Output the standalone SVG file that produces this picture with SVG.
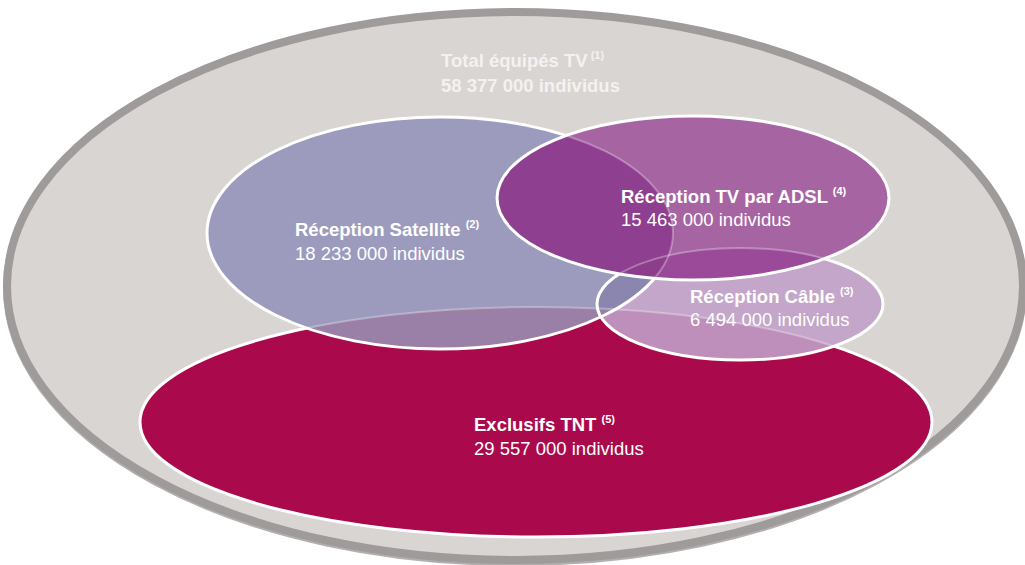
<svg xmlns="http://www.w3.org/2000/svg" xmlns:xlink="http://www.w3.org/1999/xlink" width="1025" height="565" viewBox="0 0 1025 565">
  <style>
    text { font-family: "Liberation Sans", Arial, sans-serif; font-size: 18.5px; fill: #ffffff; }
    .b { font-weight: bold; }
    .sup { font-size: 11px; font-weight: bold; }
    .tot { fill: #f4f2f1; }
    .edge { fill: none; stroke: #ffffff; stroke-width: 3; }
    .faint { fill: none; stroke: #ffffff; stroke-width: 2; opacity: 0.3; }
  </style>
  <defs>
    <ellipse id="eTnt" cx="536" cy="422" rx="396" ry="115"/>
    <ellipse id="eSat" cx="440" cy="233" rx="233" ry="116"/>
    <ellipse id="eCab" cx="740" cy="304" rx="143" ry="56"/>
    <ellipse id="eAdsl" cx="693" cy="198" rx="196" ry="82"/>
    <clipPath id="cSat"><use xlink:href="#eSat"/></clipPath>
    <clipPath id="cCab"><use xlink:href="#eCab"/></clipPath>
    <clipPath id="cAdsl"><use xlink:href="#eAdsl"/></clipPath>
  </defs>
  <rect width="1025" height="565" fill="#ffffff"/>

  <g id="total">
    <ellipse cx="515" cy="288" rx="508" ry="274" fill="none" stroke="#b3afae" stroke-width="8"/>
    <ellipse cx="515" cy="286" rx="508" ry="274" fill="#d9d5d3" stroke="#9f9b9a" stroke-width="8"/>
    <text class="b tot" x="441" y="67">Total équipés TV<tspan class="sup tot" dx="3" dy="-8">(1)</tspan></text>
    <text class="b tot" x="441" y="92">58 377 000 individus</text>
  </g>

  <g id="tnt">
    <use xlink:href="#eTnt" fill="#aa0a4c"/>
    <use xlink:href="#eTnt" class="edge"/>
  </g>

  <g id="satellite">
    <use xlink:href="#eSat" fill="#9c9bbd"/>
    <use xlink:href="#eTnt" fill="#9a80a6" clip-path="url(#cSat)"/>
    <use xlink:href="#eTnt" class="faint" clip-path="url(#cSat)"/>
    <use xlink:href="#eSat" class="edge"/>
  </g>

  <g id="cable">
    <use xlink:href="#eCab" fill="#c3a6c9"/>
    <use xlink:href="#eTnt" fill="#bf8fbb" clip-path="url(#cCab)"/>
    <use xlink:href="#eSat" fill="#8a86b0" clip-path="url(#cCab)"/>
    <g clip-path="url(#cCab)">
      <use xlink:href="#eTnt" fill="#9581a8" clip-path="url(#cSat)"/>
    </g>
    <use xlink:href="#eTnt" class="faint" clip-path="url(#cCab)"/>
    <use xlink:href="#eSat" class="edge" clip-path="url(#cCab)"/>
    <use xlink:href="#eCab" class="edge"/>
  </g>

  <g id="adsl">
    <use xlink:href="#eAdsl" fill="#a664a3"/>
    <use xlink:href="#eSat" fill="#8f3f8f" clip-path="url(#cAdsl)"/>
    <use xlink:href="#eCab" fill="#9a4a98" clip-path="url(#cAdsl)"/>
    <g clip-path="url(#cAdsl)">
      <use xlink:href="#eCab" fill="#8c3d8c" clip-path="url(#cSat)"/>
    </g>
    <use xlink:href="#eSat" class="faint" clip-path="url(#cAdsl)"/>
    <use xlink:href="#eCab" class="faint" clip-path="url(#cAdsl)"/>
    <use xlink:href="#eAdsl" class="edge"/>
  </g>

  <g id="labels">
    <text class="b" x="295" y="236">Réception Satellite <tspan class="sup" dy="-8">(2)</tspan></text>
    <text x="295" y="260">18 233 000 individus</text>
    <text class="b" x="621" y="203">Réception TV par ADSL <tspan class="sup" dy="-8">(4)</tspan></text>
    <text x="621" y="226">15 463 000 individus</text>
    <text class="b" x="690" y="303">Réception Câble <tspan class="sup" dy="-8">(3)</tspan></text>
    <text x="690" y="326">6 494 000 individus</text>
    <text class="b" x="474" y="431">Exclusifs TNT <tspan class="sup" dy="-8">(5)</tspan></text>
    <text x="474" y="455">29 557 000 individus</text>
  </g>

  <g id="connectors"/>
</svg>
